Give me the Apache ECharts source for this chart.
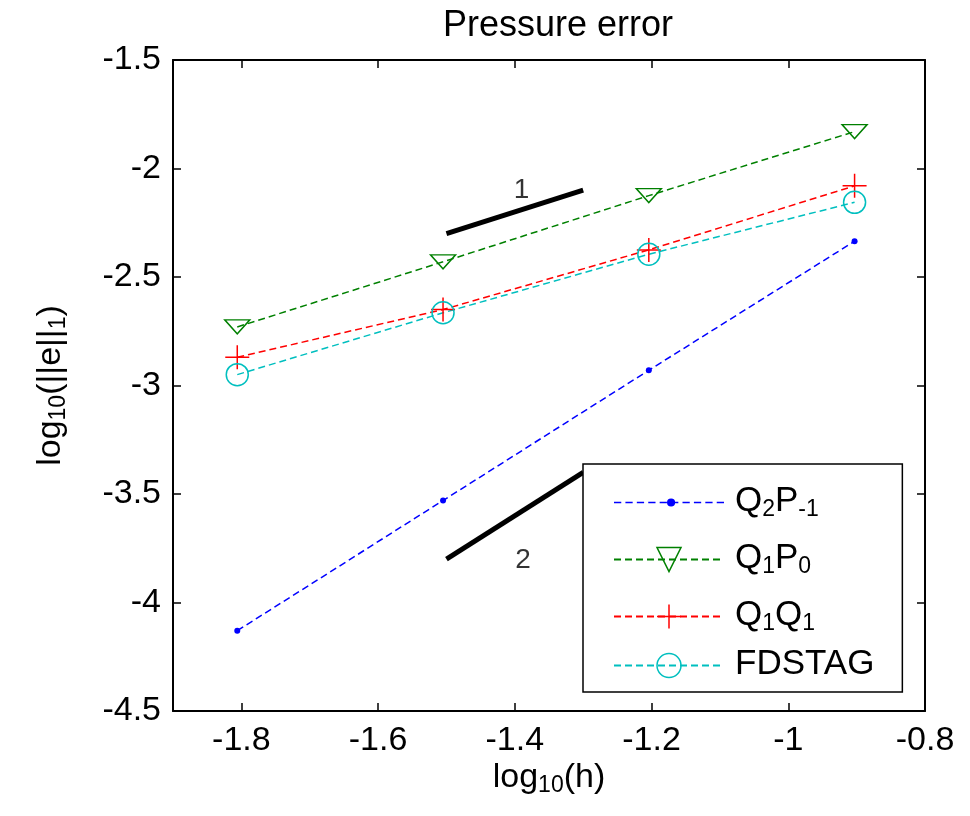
<!DOCTYPE html>
<html><head><meta charset="utf-8">
<script src="https://cdn.jsdelivr.net/npm/echarts@6/dist/echarts.min.js"></script>
<style>html,body{margin:0;padding:0;background:#fff}#c{width:970px;height:816px}</style>
</head><body><div id="c"></div>
<script>
// ---- data ----
const xValues = [-1.806, -1.505, -1.204, -0.903];
const q2p1   = [-4.13, -3.53, -2.93, -2.335];
const q1p0   = [-2.73, -2.43, -2.125, -1.83];
const q1q1   = [-2.87, -2.65, -2.375, -2.08];
const fdstag = [-2.95, -2.665, -2.395, -2.156];
const slope1 = [[-1.5, -2.3], [-1.3, -2.1]];
const slope2 = [[-1.5, -3.8], [-1.3, -3.4]];
const slopeLabels = [{value: [-1.39, -2.10], text: '1'}, {value: [-1.388, -3.805], text: '2'}];
const xTicks = [-1.8, -1.6, -1.4, -1.2, -1, -0.8];
const seriesNames = ['Q2P-1', 'Q1P0', 'Q1Q1', 'FDSTAG'];
const legendLabels = {
  'Q2P-1': '{m|Q}{s|2}{m|P}{s|-1}',
  'Q1P0': '{m|Q}{s|1}{m|P}{s|0}',
  'Q1Q1': '{m|Q}{s|1}{m|Q}{s|1}',
  'FDSTAG': '{m|FDSTAG}'
};

const FONT = '"Liberation Sans", Arial, Helvetica, sans-serif';
const pts = ys => xValues.map((x, i) => [x, ys[i]]);
const richSub = (big, small, drop) => ({
  m: {fontSize: big, lineHeight: big + 2, verticalAlign: 'top', fontFamily: FONT, color: '#000'},
  s: {fontSize: small, lineHeight: small, verticalAlign: 'bottom', padding: [drop, 0, 0, 0], fontFamily: FONT, color: '#000'}
});

// blue legend icon: dashed line + small dot
let bluePath = 'path://';
for (let x = 0; x < 110; x += 11) bluePath += 'M' + x + ' 15L' + Math.min(x + 7, 110) + ' 15';
bluePath += 'M58.2 15A3.2 3.2 0 1 1 51.8 15A3.2 3.2 0 1 1 58.2 15Z';

const triDown = 'path://M0 0L26 0L13 19Z';
const plusPath = 'path://M12 0L12 24M0 12L24 12';
const dash = [7, 4];

const axisCommon = {
  type: 'value', splitLine: {show: false},
  axisLine: {show: true, onZero: false, lineStyle: {color: '#000', width: 2}},
  axisTick: {show: true, inside: true, length: 8, lineStyle: {color: '#000', width: 1.5}}
};

const option = {
  animation: false,
  backgroundColor: '#fff',
  textStyle: {fontFamily: FONT},
  title: {
    text: 'Pressure error', left: 553, top: 3, textAlign: 'center',
    textStyle: {fontSize: 36, fontWeight: 'normal', color: '#000', fontFamily: FONT}
  },
  grid: {left: 173, right: 45, top: 60, bottom: 105},
  xAxis: [
    Object.assign({}, axisCommon, {
      min: -1.9, max: -0.8, position: 'bottom',
      axisTick: Object.assign({}, axisCommon.axisTick, {customValues: xTicks}),
      axisLabel: {customValues: xTicks, fontSize: 34, color: '#000', margin: 13, fontFamily: FONT},
      name: '{m|log}{s|10}{m|(h)}', nameLocation: 'middle', nameGap: 50, nameMoveOverlap: false,
      nameTextStyle: {rich: richSub(34, 23, 22)}
    }),
    Object.assign({}, axisCommon, {
      min: -1.9, max: -0.8, position: 'top',
      axisTick: Object.assign({}, axisCommon.axisTick, {customValues: xTicks}),
      axisLabel: {show: false}
    })
  ],
  yAxis: [
    Object.assign({}, axisCommon, {
      min: -4.5, max: -1.5, interval: 0.5, position: 'left',
      axisLabel: {fontSize: 34, color: '#000', margin: 12, fontFamily: FONT},
      name: '{m|log}{s|10}{m|(||e||}{s|1}{m|)}', nameLocation: 'middle', nameGap: 103, nameMoveOverlap: false,
      nameTextStyle: {rich: richSub(34, 23, 22)}
    }),
    Object.assign({}, axisCommon, {
      min: -4.5, max: -1.5, interval: 0.5, position: 'right',
      axisLabel: {show: false}
    })
  ],
  legend: {
    orient: 'vertical', left: 583, top: 464,
    padding: [12, 28, 10, 30], itemGap: 12,
    itemWidth: 110, itemHeight: 30,
    backgroundColor: '#fff', borderColor: '#000', borderWidth: 1.5, borderRadius: 0,
    selectedMode: false, z: 10,
    itemStyle: {borderWidth: 1.5},
    data: [
      {name: 'Q2P-1', icon: bluePath, itemStyle: {color: '#0000ff', borderColor: '#0000ff', borderWidth: 1.5, borderType: 'solid'}},
      {name: 'Q1P0'}, {name: 'Q1Q1'}, {name: 'FDSTAG'}
    ],
    formatter: n => legendLabels[n],
    textStyle: {padding: [0, 0, 0, 6], rich: richSub(35, 23, 22)}
  },
  series: [
    {name: seriesNames[0], type: 'line', data: pts(q2p1), symbol: 'circle', symbolSize: 6,
     lineStyle: {color: '#0000ff', width: 1.5, type: dash}, itemStyle: {color: '#0000ff'}},
    {name: seriesNames[1], type: 'line', data: pts(q1p0), symbol: triDown, symbolSize: [25, 19], symbolKeepAspect: true,
     lineStyle: {color: '#008000', width: 1.5, type: dash},
     itemStyle: {color: 'transparent', borderColor: '#008000', borderWidth: 1.5}},
    {name: seriesNames[2], type: 'line', data: pts(q1q1), symbol: plusPath, symbolSize: 24,
     lineStyle: {color: '#ff0000', width: 1.5, type: dash},
     itemStyle: {color: 'transparent', borderColor: '#ff0000', borderWidth: 1.5}},
    {name: seriesNames[3], type: 'line', data: pts(fdstag), symbol: 'circle', symbolSize: 22,
     lineStyle: {color: '#00bfbf', width: 1.5, type: dash},
     itemStyle: {color: 'transparent', borderColor: '#00bfbf', borderWidth: 1.5}},
    {name: 'slope1', type: 'line', data: slope1, symbol: 'none', silent: true,
     lineStyle: {color: '#000', width: 5}},
    {name: 'slope2', type: 'line', data: slope2, symbol: 'none', silent: true,
     lineStyle: {color: '#000', width: 5}},
    {name: 'slopeLabels', type: 'scatter', symbolSize: 0, silent: true,
     data: slopeLabels.map(d => ({value: d.value, label: {formatter: d.text}})),
     label: {show: true, position: 'inside', fontSize: 28, color: '#000', fontFamily: FONT}}
  ]
};
const chart = echarts.init(document.getElementById('c'), null, {renderer: 'canvas'});
chart.setOption(option);
</script>
</body></html>
